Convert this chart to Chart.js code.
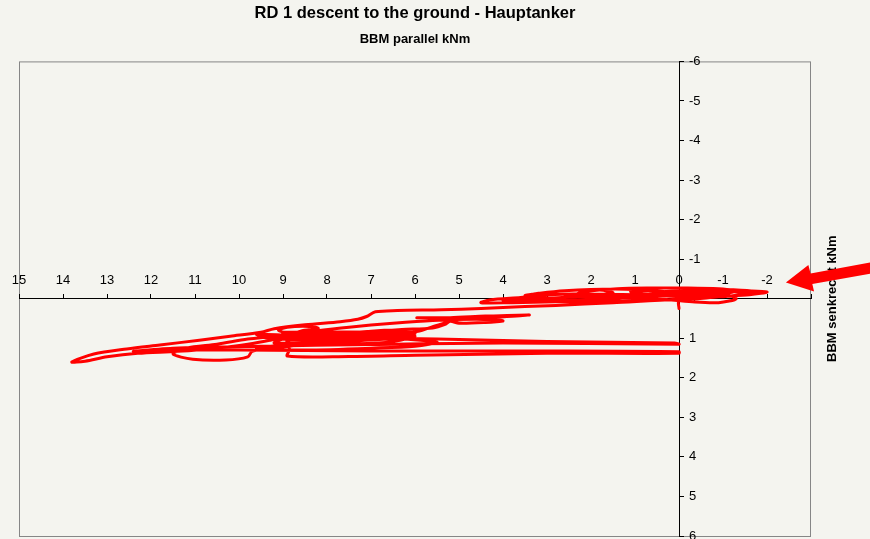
<!DOCTYPE html>
<html lang="de">
  <head>
    <meta charset="UTF-8" />
    <title>RD 1 descent to the ground - Hauptanker</title>
    <script src="https://cdn.jsdelivr.net/npm/chart.js"></script>
    <style>
      body { margin: 0; background: #f4f4ef; }
    </style>
  </head>
  <body>
    <canvas id="myChart" width="870" height="539"></canvas>

    <script>
      // data: BBM parallel (x) / BBM senkrecht (y), kNm, one continuous trace
      const bbmParallel = [
        // loops round the origin
        0.0, 0.0, -0.5, -1.2, -2.0, -1.6, -0.9, -0.2, 0.8, 1.8, 2.8, 3.8, 4.5, 4.3, 3.6, 3.1, 2.9, 3.3, 3.0, 2.5,
        2.2, 1.8, 1.5, 1.9, 2.2, 1.4, 0.6, -0.2, -0.9, -1.3, -0.9, -0.2, 0.8, 1.1, 0.7, 0.3, -0.5, -1.0, -1.3, -0.9,
        -0.3, 0.5, 1.5, 2.3, 3.2, 4.0, 3.2, 2.0, 1.0, 0.0, -1.0, -1.5, -0.5, 0.5, 0.0, -0.5, 0.0,
        -0.6, -1.7, -1.1, 0.0, 1.2, 2.6, 3.5, 2.4, 1.0, -0.3,
        // out to the far left
        1.5, 2.8, 3.5, 4.5, 5.4, 6.4, 6.9, 7.1, 7.3, 7.7, 8.5, 9.2, 9.5, 10.2, 10.9, 11.8, 12.55, 13.3, 13.8, 13.5,
        13.0, 12.3, 11.4, 10.5, 9.8, 9.3, 8.9, 8.6, 8.2, 8.4, 8.9, 9.1, 8.7, 8.0, 7.2, 6.3, 5.6, 5.3, 5.2, 5.0,
        4.4, 4.0, 4.6, 5.6, 6.5, 7.5, 8.3, 9.2, 9.8,
        // lower lobe and the long strokes back to zero
        10.5, 11.2, 11.5, 11.05, 10.3, 9.8, 9.7, 9.2, 8.5, 7.6, 6.6, 6.0, 6.2, 7.0, 8.0, 8.9, 8.85, 8.9, 7.5, 6.0,
        3.0, 0.0, 0.0, 3.0, 7.0, 10.0, 12.0, 12.4, 11.5, 9.5, 7.0, 4.0, 0.0, 0.1, 3.0, 5.5, 7.0, 8.0, 9.0, 9.6,
        9.3, 8.0, 6.8, 6.0, 6.6, 7.8, 9.0, 9.6, 8.6, 7.0, 6.0, 5.5, 6.4, 7.6, 8.6, 9.2, 9.0, 8.2, 7.0, 6.2,
        9.0, 8.0, 7.2, 6.5, 5.9, 5.66, 5.28, 5.15, 4.3, 3.4, 4.4, 5.2, 5.96
      ];
      const bbmSenkrecht = [
        0.25, 0.05, -0.12, -0.2, -0.17, -0.1, -0.05, 0.02, 0.04, 0.06, 0.08, 0.1, 0.1, 0.03, -0.03, -0.08, -0.15, -0.12, -0.02, -0.05,
        -0.17, -0.22, -0.15, -0.1, -0.16, -0.25, -0.27, -0.27, -0.25, -0.2, -0.1, -0.08, -0.12, -0.18, -0.2, -0.12, -0.15, -0.12, 0.0, 0.1,
        0.08, 0.0, -0.05, -0.05, 0.0, 0.05, 0.05, 0.02, -0.05, -0.1, -0.05, -0.15, -0.2, -0.15, -0.05, 0.0, 0.0,
        -0.22, -0.18, -0.06, -0.15, -0.24, -0.2, -0.08, -0.12, -0.1, -0.02,
        0.1, 0.17, 0.2, 0.25, 0.28, 0.3, 0.33, 0.45, 0.52, 0.58, 0.66, 0.76, 0.85, 0.95, 1.05, 1.17, 1.27, 1.4, 1.6, 1.58,
        1.47, 1.38, 1.33, 1.25, 1.15, 1.05, 0.95, 0.82, 0.75, 0.7, 0.72, 0.8, 0.9, 0.9, 0.85, 0.78, 0.74, 0.64, 0.57, 0.62,
        0.6, 0.56, 0.52, 0.55, 0.62, 0.72, 0.82, 0.95, 1.02,
        1.15, 1.25, 1.4, 1.53, 1.55, 1.47, 1.33, 1.25, 1.15, 1.05, 0.95, 0.88, 0.8, 0.82, 0.95, 1.05, 1.28, 1.45, 1.46, 1.43,
        1.38, 1.38, 1.34, 1.32, 1.32, 1.3, 1.3, 1.33, 1.25, 1.2, 1.16, 1.12, 1.15, 1.12, 1.08, 1.02, 1.0, 0.98, 0.92, 0.9,
        1.0, 1.05, 1.02, 0.95, 1.1, 1.15, 1.18, 1.25, 1.3, 1.25, 1.2, 1.1, 1.02, 1.08, 1.1, 1.12, 1.02, 0.95, 0.88, 0.85,
        0.85, 0.88, 0.95, 0.92, 0.82, 0.73, 0.6, 0.55, 0.48, 0.41, 0.44, 0.48, 0.48
      ];

      // axis ranges
      const xMin = -3, xMax = 15;
      const yMin = -6, yMax = 6;

      // red arrow drawn on the chart, in data units
      const arrowX = [-2.43, -2.94, -2.99, -4.35, -4.35, -3.03, -3.07];
      const arrowY = [-0.41, -0.85, -0.64, -0.92, -0.63, -0.37, -0.18];

      const bg = "#f4f4ef";
      Chart.defaults.font.family = "'Liberation Sans', Arial, sans-serif";
      Chart.defaults.color = "#000";

      const extras = {
        id: "extras",
        beforeDraw(chart) {
          const { ctx, chartArea: a } = chart;
          ctx.save();
          ctx.fillStyle = bg;
          ctx.fillRect(0, 0, chart.width, chart.height);
          ctx.strokeStyle = "#868686";
          ctx.lineWidth = 1;
          ctx.strokeRect(a.left + 0.5, a.top + 0.5, a.width - 1, a.height);
          ctx.restore();
        },
        afterLayout(chart) {
          // put the y axis on x = 0
          const y = chart.scales.y;
          const x0 = chart.scales.x.getPixelForValue(0);
          y.left = x0;
          y.right = x0;
        },
        afterDraw(chart) {
          const { ctx, chartArea: a, scales } = chart;
          ctx.save();
          ctx.translate(a.right + 21, scales.y.getPixelForValue(0));
          ctx.rotate(-Math.PI / 2);
          ctx.font = "bold 13px 'Liberation Sans', Arial";
          ctx.fillStyle = "#000";
          ctx.textAlign = "center";
          ctx.textBaseline = "middle";
          ctx.fillText("BBM senkrecht kNm", 0, 0);
          ctx.restore();

          ctx.save();
          ctx.fillStyle = "#ff0000";
          ctx.beginPath();
          arrowX.forEach((v, i) => {
            const px = scales.x.getPixelForValue(v);
            const py = scales.y.getPixelForValue(arrowY[i]);
            if (i === 0) ctx.moveTo(px, py);
            else ctx.lineTo(px, py);
          });
          ctx.closePath();
          ctx.fill();
          ctx.restore();
        }
      };

      const data = {
        datasets: [
          {
            label: "Hauptanker",
            data: bbmParallel.map((x, i) => ({ x: x, y: bbmSenkrecht[i] })),
            showLine: true,
            borderColor: "#ff0000",
            backgroundColor: "#ff0000",
            borderWidth: 3,
            pointRadius: 0,
            tension: 0.3,
            borderJoinStyle: "round",
            borderCapStyle: "round"
          }
        ]
      };

      const config = {
        type: "scatter",
        data: data,
        options: {
          responsive: false,
          animation: false,
          devicePixelRatio: 1,
          layout: { padding: { left: 19, right: 59, top: 0, bottom: 3 } },
          plugins: {
            legend: { display: false },
            tooltip: { enabled: false },
            title: {
              display: true,
              text: "RD 1 descent to the ground - Hauptanker",
              fullSize: false,
              font: { size: 16.5, weight: "bold" },
              padding: { top: 4, bottom: 6 }
            },
            subtitle: {
              display: true,
              text: "BBM parallel kNm",
              fullSize: false,
              font: { size: 13, weight: "bold" },
              padding: { top: 2, bottom: 14 }
            }
          },
          scales: {
            x: {
              type: "linear",
              reverse: true,
              min: xMin,
              max: xMax,
              position: { y: 0 },
              border: { display: true, color: "#000", width: 1 },
              grid: { display: true, drawOnChartArea: false, drawTicks: true, tickLength: -5, color: "#000" },
              ticks: {
                stepSize: 1,
                autoSkip: false,
                maxRotation: 0,
                padding: -21,
                font: { size: 13 },
                callback: (v) => (v === xMin ? "" : v)
              },
              afterFit(s) {
                s.paddingLeft = 0;
                s.paddingRight = 0;
              }
            },
            y: {
              type: "linear",
              reverse: true,
              min: yMin,
              max: yMax,
              position: "left",
              border: { display: true, color: "#000", width: 1 },
              grid: { display: true, drawOnChartArea: false, drawTicks: true, tickLength: -5, color: "#000" },
              ticks: { stepSize: 1, mirror: true, padding: 10, font: { size: 13 } },
              afterFit(s) {
                s.width = 0;
                s.paddingTop = 0;
                s.paddingBottom = 0;
              }
            }
          }
        },
        plugins: [extras]
      };

      const myChart = new Chart(document.getElementById("myChart"), config);
    </script>
  </body>
</html>
